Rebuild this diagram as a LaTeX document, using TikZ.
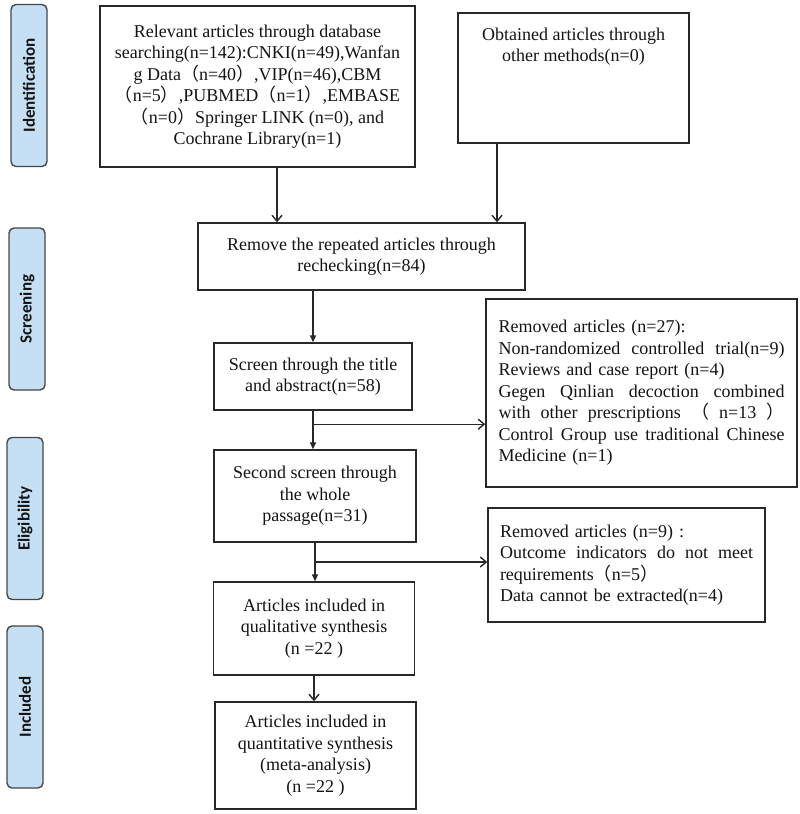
\documentclass[tikz,border=0pt]{standalone}
\usepackage{fontspec}
\setmainfont{Liberation Serif}
\newfontfamily\cjk{Noto Sans CJK SC}
\newfontfamily\stagefont{Carlito}
\usepackage{xcolor}
\usepackage{tikz}
\usetikzlibrary{arrows.meta,calc}
\definecolor{stageblue}{RGB}{197,224,244}
\definecolor{stageline}{RGB}{70,70,70}
\definecolor{boxline}{RGB}{40,40,40}
\definecolor{textdark}{RGB}{20,20,20}
\newcommand{\spreadline}[2]{\leavevmode\hbox to #1{#2}}

\begin{document}
\begin{tikzpicture}[x=1pt, y=-1pt,
  box/.style={draw=boxline, line width=1.4pt, rectangle, fill=white, align=center, inner sep=4pt, text=textdark, font=\fontsize{18}{21.5}\selectfont},
  stage/.style={draw=stageline, line width=1.4pt, rectangle, rounded corners=5pt, fill=stageblue, rotate=90, minimum width=162pt, minimum height=36pt, inner sep=0pt, text=textdark, font=\stagefont\bfseries\fontsize{17}{20}\selectfont},
  openarr/.style={draw=boxline, line width=1.4pt, -{Straight Barb[length=6pt,width=10pt]}},
  fillarr/.style={draw=boxline, line width=1.4pt, -{Triangle[length=7pt,width=6pt]}}]%
\useasboundingbox (0,0) rectangle (800,814);%
\node[stage] (ident) at (29,85.5) {Identification};%
\node[stage] (screen) at (27,309) {Screening};%
\node[stage] (elig) at (25,518.5) {Eligibility};%
\node[stage] (incl) at (25,707) {Included};%
\node[box, minimum width=315pt, minimum height=161pt] (search) at (257.5,86.5) {Relevant articles through database\\searching(n=142):CNKI(n=49),Wanfan\\g Data{\cjk （}n=40{\cjk ）},VIP(n=46),CBM\\{\cjk （}n=5{\cjk ）},PUBMED{\cjk （}n=1{\cjk ）},EMBASE\\{\cjk （}n=0{\cjk ）}Springer LINK (n=0), and\\Cochrane Library(n=1)};%
\node[box, minimum width=231pt, minimum height=130pt, label={[anchor=north, align=center, yshift=-12pt, text=textdark, font=\fontsize{18}{21.5}\selectfont]north:Obtained articles through\\other methods(n=0)}] (other) at (573.5,78) {};%
\node[box, minimum width=327pt, minimum height=67pt] (dedup) at (361.5,256.5) {Remove the repeated articles through\\rechecking(n=84)};%
\node[box, minimum width=198pt, minimum height=67pt] (title) at (313,376.5) {Screen through the title\\and abstract(n=58)};%
\node[box, minimum width=202pt, minimum height=92pt] (full) at (315,496) {Second screen through\\the whole\\passage(n=31)};%
\node[box, minimum width=201pt, minimum height=93pt] (quali) at (314,628.5) {Articles included in\\qualitative synthesis\\(n =22 )};%
\node[box, minimum width=201pt, minimum height=107pt] (quanti) at (315.5,755.5) {Articles included in\\quantitative synthesis\\(meta-analysis)\\(n =22 )};%
\node[box, align=left, text width=286pt, minimum width=311pt, minimum height=188pt] (excl1) at (641.5,393) {Removed articles (n=27):\\\spreadline{286pt}{Non-randomized\hfill controlled\hfill trial(n=9)}\\Reviews and case report (n=4)\\\spreadline{286pt}{Gegen\hfill Qinlian\hfill decoction\hfill combined}\\\spreadline{286pt}{with\hfill other\hfill prescriptions\hfill{\cjk （}\hfill n=13\hfill{\cjk ）}}\\\spreadline{286pt}{Control\hfill Group\hfill use\hfill traditional\hfill Chinese}\\Medicine (n=1)};%
\node[box, align=left, text width=253pt, minimum width=277pt, minimum height=114pt] (excl2) at (626.5,565) {Removed articles (n=9) :\\\spreadline{253pt}{Outcome\hfill indicators\hfill do\hfill not\hfill meet}\\requirements{\cjk （}n=5{\cjk ）}\\Data cannot be extracted(n=4)};%
\coordinate (split1) at ($(title.south)!0.35!(title.south |- full.north)$);%
\coordinate (split2) at ($(full.south)!0.5!(full.south |- quali.north)$);%
\draw[openarr] ([xshift=19.5pt]search.south) -- ([xshift=19.5pt]search.south |- dedup.north);%
\draw[openarr] ([xshift=-76.5pt]other.south) -- ([xshift=-76.5pt]other.south |- dedup.north);%
\draw[fillarr] (title.north |- dedup.south) -- (title.north);%
\draw[fillarr] (title.south) -- (title.south |- full.north);%
\draw[openarr] (split1) -- (split1 -| excl1.west);%
\draw[fillarr] (full.south) -- (full.south |- quali.north);%
\draw[openarr] (split2) -- (split2 -| excl2.west);%
\draw[openarr] (quali.south) -- (quali.south |- quanti.north);%
\end{tikzpicture}
\end{document}
